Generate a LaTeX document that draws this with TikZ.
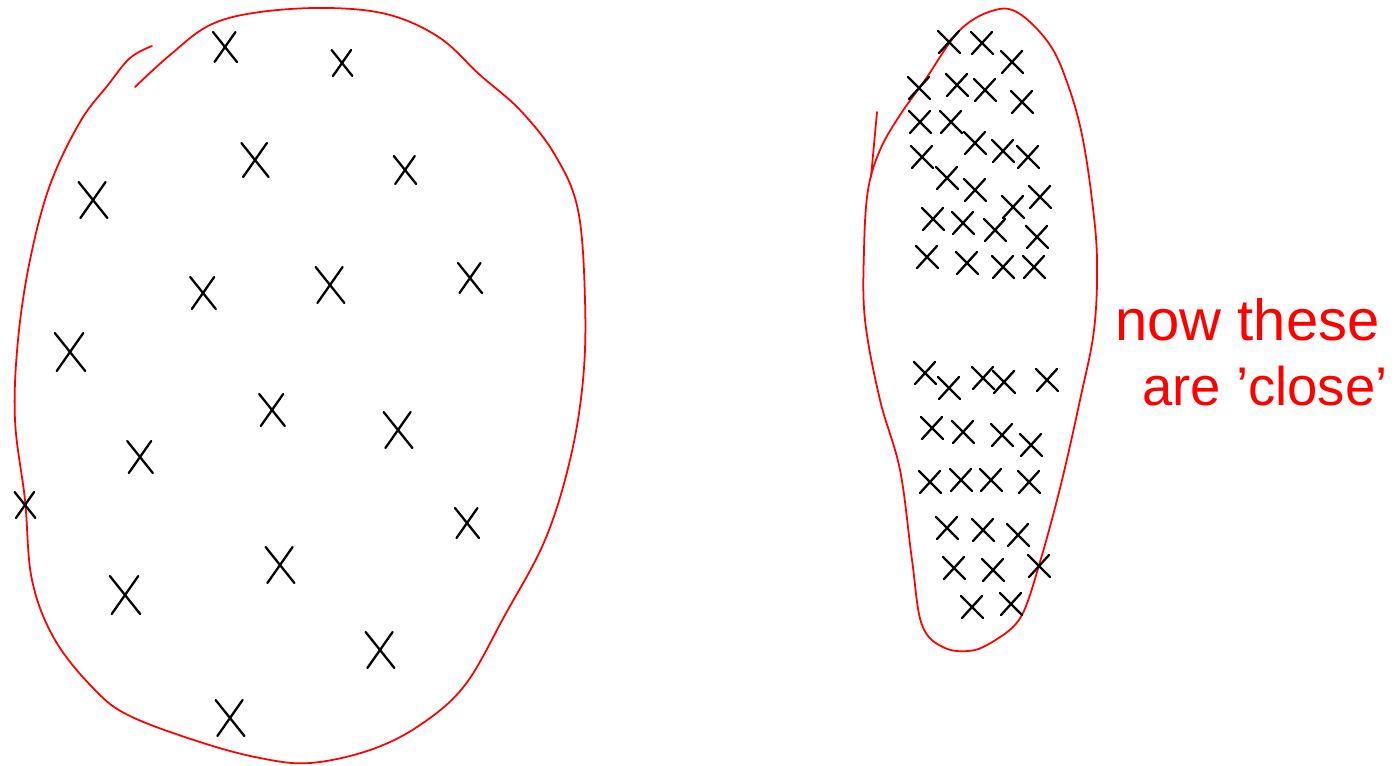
\documentclass[tikz,border=0pt]{standalone}
\usepackage{fontspec}
\setmainfont{Liberation Sans}
\usepackage{xcolor}
\usepackage{tikz}
\usetikzlibrary{positioning}
\definecolor{pen}{HTML}{FF0000}
\definecolor{ink}{HTML}{000000}
\tikzset{
  blob/.style={draw=pen, line width=1pt, line join=round, line cap=round},
  xmk/.style={draw=ink, line width=1.3pt, line cap=round},
  note/.style={text=pen, font=\fontsize{33}{40}\selectfont, inner sep=0pt, anchor=base west}
}
\begin{document}
\begin{tikzpicture}[x=0.02cm, y=-0.02cm]
  \useasboundingbox (0,0) rectangle (1398,765);
  % left blob: spread out points
  \draw[blob] plot[smooth, tension=0.6] coordinates {
    (152,46) (130,58) (108,85) (80,122) (50,185) (30,260) (18,340) (15,420)
    (25,500) (32,580) (55,640) (95,690) (130,716) (200,742) (260,758) (310,763)
    (370,750) (420,725) (465,685) (505,615) (545,540) (570,460) (583,380)
    (585,300) (578,210) (555,155) (520,110) (480,75) (440,38) (390,15) (330,8)
    (260,12) (210,25) (170,55) (135,87)};
  \foreach \x/\y/\s in {225/47/15, 342/63/13, 255/160/17, 405/170/14, 93/200/18,
      203/293/16, 330/285/18, 470/278/15, 70/352/19, 272/410/16, 398/430/18,
      140/457/16, 25/505/13, 467/523/15, 280/565/18, 125/595/19, 380/650/18,
      230/718/18}
    \draw[xmk] ({\x-\s*0.8},{\y-\s}) -- ({\x+\s*0.8},{\y+\s})
               ({\x+\s*0.7},{\y-\s}) -- ({\x-\s*0.7},{\y+\s});
  % right blob: same count, packed together
  \draw[blob] (877,112) -- (871,177);
  \draw[blob] plot[smooth, tension=0.6] coordinates {
    (1000,637) (975,650) (945,648) (922,625) (912,560) (900,470) (880,400)
    (865,320) (864,250) (868,190) (880,150) (900,115) (925,80) (960,30)
    (995,10) (1020,14) (1050,45) (1068,85) (1082,135) (1092,200) (1097,260)
    (1094,330) (1080,400) (1062,480) (1042,555) (1022,615) (1000,637)};
  \foreach \x/\y in {949/42, 982/43, 1012/62, 919/88, 957/85, 985/90, 1022/102,
      920/122, 951/122, 975/143, 1003/151, 1028/157, 922/157, 947/178, 975/190,
      1013/207, 1040/197, 933/219, 963/223, 995/230, 1037/237, 927/257,
      967/263, 1003/267, 1034/267,
      925/373, 949/388, 983/378, 1004/382, 1047/380, 932/428, 963/432,
      1002/435, 1031/445, 930/482, 961/480, 991/480, 1029/482, 947/528,
      983/530, 1018/535, 954/568, 993/570, 1039/566, 972/607, 1011/604}
    \draw[xmk] ({\x-11},{\y-11}) -- ({\x+11},{\y+11})
               ({\x+10},{\y-11}) -- ({\x-10},{\y+11});
  \node[note] (now) at (1115,340) {now these};
  \node[note, font=\fontsize{31}{38}\selectfont] (close) at (1142,405) {are 'close'};
\end{tikzpicture}
\end{document}
